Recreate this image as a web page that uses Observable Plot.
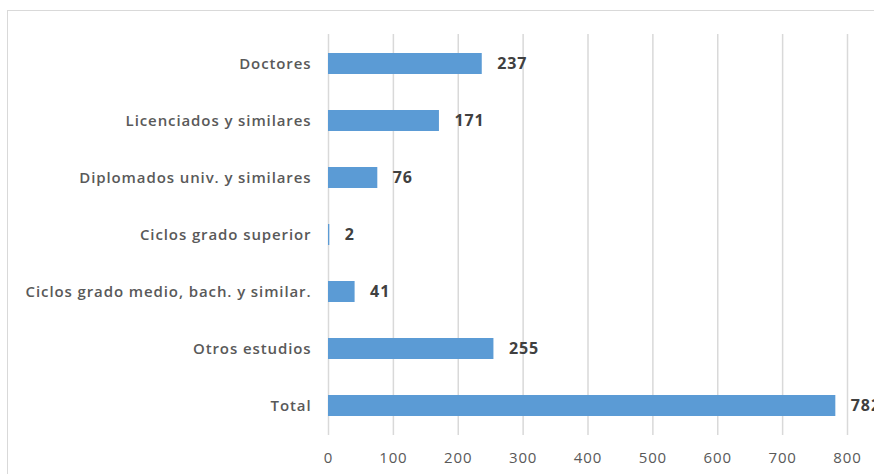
<!DOCTYPE html>
<html>
<head>
<meta charset="utf-8">
<script src="https://cdn.jsdelivr.net/npm/d3@7"></script>
<script src="https://cdn.jsdelivr.net/npm/@observablehq/plot@0.6"></script>
<style>
  html, body { margin: 0; padding: 0; background: #fff; overflow: hidden; }
  #wrap { position: relative; width: 874px; height: 474px; overflow: hidden; }
  #border { position: absolute; left: 7px; top: 10px; width: 920px; height: 520px; border: 1px solid #d9d9d9; box-sizing: border-box; }
  #chart { position: absolute; left: 0; top: 0; }
  #chart svg text { letter-spacing: 0.9px; }
</style>
</head>
<body>
<div id="wrap"><div id="border"></div><div id="chart"></div></div>
<script>
const categories = ["Doctores", "Licenciados y similares", "Diplomados univ. y similares", "Ciclos grado superior", "Ciclos grado medio, bach. y similar.", "Otros estudios", "Total"];
const values = [237, 171, 76, 2, 41, 255, 782];
const xTicks = [0, 100, 200, 300, 400, 500, 600, 700, 800];

const data = categories.map((c, i) => ({category: c, value: values[i]}));

const chart = Plot.plot({
  width: 874,
  height: 474,
  marginLeft: 328,
  marginRight: 27,
  marginTop: 34,
  marginBottom: 39,
  style: {fontFamily: "'Open Sans', sans-serif", fontSize: "15px", color: "#595959", background: "transparent", overflow: "visible"},
  x: {domain: [0, 800], ticks: xTicks, label: null},
  y: {domain: categories, label: null, paddingInner: 0.63, paddingOuter: 0.315},
  marks: [
    Plot.gridX(xTicks, {stroke: "#d9d9d9", strokeOpacity: 1, strokeWidth: 1.5}),
    Plot.barX(data, {y: "category", x: "value", fill: "#5b9bd5"}),
    Plot.text(data, {y: "category", x: "value", text: d => String(d.value), textAnchor: "start", dx: 15, fill: "#404040", fontWeight: "bold", fontSize: 16}),
    Plot.axisX(xTicks, {tickSize: 0, tickPadding: 17, fill: "#595959", fontSize: 15, label: null}),
    Plot.axisY({tickSize: 0, tickPadding: 17, fill: "#595959", fontSize: 15, fontWeight: 600, label: null})
  ]
});
document.getElementById("chart").appendChild(chart);
</script>
</body>
</html>
